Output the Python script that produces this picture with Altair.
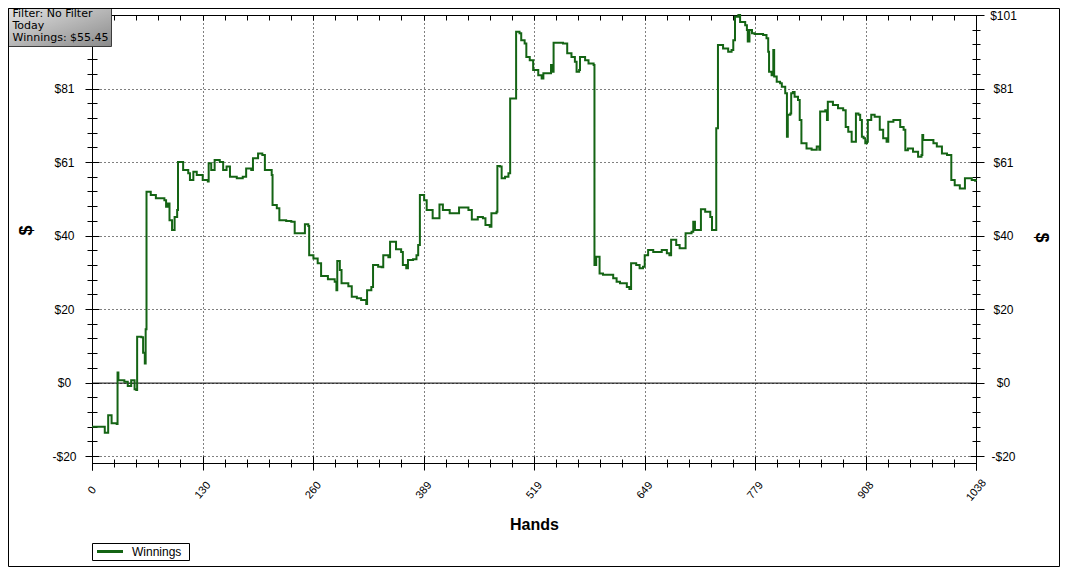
import altair as alt
import pandas as pd

# ---------------- data ----------------
hands = [0, 3, 15, 19, 23, 29, 30, 31, 38, 42,
         46, 50, 52, 53, 58, 60, 62, 63, 64, 69,
         75, 85, 87, 89, 91, 94, 97, 100, 101, 107,
         113, 115, 119, 123, 130, 136, 137, 140, 144, 150,
         154, 158, 162, 170, 177, 181, 187, 189, 195, 200,
         203, 211, 212, 217, 220, 228, 234, 238, 246, 250,
         254, 255, 260, 265, 269, 277, 285, 287, 288, 291,
         293, 301, 305, 311, 316, 322, 323, 328, 330, 336,
         340, 342, 348, 350, 356, 357, 363, 365, 369, 371,
         377, 381, 383, 385, 390, 393, 400, 406, 408, 412,
         420, 430, 431, 442, 446, 453, 459, 462, 467, 469,
         475, 476, 479, 481, 485, 489, 491, 496, 498, 502,
         504, 508, 510, 514, 518, 524, 528, 530, 536, 539,
         541, 542, 553, 558, 563, 567, 569, 572, 573, 579,
         583, 589, 590, 592, 594, 596, 600, 608, 612, 616,
         620, 624, 628, 631, 633, 639, 643, 647, 649, 653,
         659, 669, 675, 678, 680, 686, 690, 696, 697, 704,
         706, 708, 714, 715, 720, 726, 728, 731, 733, 734,
         735, 741, 747, 751, 753, 755, 759, 761, 767, 769,
         770, 772, 775, 778, 788, 792, 794, 795, 798, 800,
         801, 804, 808, 810, 814, 816, 817, 820, 821, 823,
         825, 829, 831, 833, 839, 845, 851, 854, 855, 861,
         863, 864, 870, 876, 882, 885, 888, 892, 896, 897,
         900, 902, 904, 906, 908, 910, 911, 915, 919, 925,
         929, 933, 935, 941, 949, 953, 955, 958, 964, 970,
         974, 975, 976, 982, 988, 992, 998, 1004, 1007, 1009,
         1013, 1019, 1023, 1025, 1029, 1033, 1037, 1038]

winnings = [-12.0, -12.0, -13.6, -8.8, -11.0, -11.2, 2.9, 0.8, 0.4, -0.8,
            0.8, -1.7, -1.9, 12.7, 12.6, 8.3, 5.4, 14.8, 52.5, 51.6,
            50.7, 50.2, 48.4, 49.3, 44.7, 42.0, 45.6, 47.5, 60.7, 58.5,
            57.6, 55.7, 58.0, 57.1, 55.7, 55.3, 60.3, 58.5, 61.2, 60.7,
            58.5, 59.4, 56.6, 56.2, 56.6, 58.9, 58.5, 61.7, 63.0, 62.6,
            58.5, 57.1, 48.9, 48.0, 44.7, 44.5, 44.3, 41.1, 41.1, 43.6,
            43.1, 35.1, 34.2, 32.9, 29.4, 28.5, 27.8, 25.5, 33.5, 31.0,
            27.4, 26.6, 23.7, 23.3, 22.8, 21.7, 25.5, 26.4, 32.4, 31.9,
            31.8, 35.1, 34.5, 38.8, 38.8, 36.7, 36.0, 32.4, 31.5, 33.8,
            34.0, 35.1, 37.9, 51.6, 50.2, 47.5, 45.2, 45.2, 49.0, 47.5,
            46.6, 46.6, 48.2, 47.5, 44.9, 45.6, 45.2, 43.4, 42.9, 46.6,
            47.0, 59.6, 59.4, 56.2, 56.6, 57.6, 78.1, 78.1, 96.4, 96.0,
            94.1, 93.2, 89.5, 88.6, 85.9, 84.5, 83.6, 85.0, 85.0, 87.3,
            85.4, 93.4, 93.2, 90.5, 89.5, 88.2, 85.4, 85.9, 89.5, 88.6,
            87.7, 87.3, 32.4, 34.7, 34.7, 30.1, 29.7, 29.7, 28.8, 27.8,
            27.4, 27.4, 26.4, 25.8, 32.9, 32.4, 31.5, 31.9, 35.1, 36.5,
            36.0, 36.5, 35.6, 35.1, 39.3, 37.9, 37.0, 37.0, 41.1, 41.5,
            44.3, 42.0, 42.0, 47.7, 47.0, 45.6, 42.0, 42.0, 69.9, 69.9,
            92.8, 91.8, 90.9, 91.4, 94.1, 100.5, 101.0, 99.1, 98.2, 96.9,
            93.7, 96.9, 96.0, 95.8, 95.5, 94.6, 90.9, 85.4, 84.5, 91.4,
            84.1, 82.7, 82.3, 81.3, 79.5, 67.6, 73.6, 74.0, 79.5, 79.9,
            78.6, 77.7, 72.2, 65.8, 64.4, 64.0, 64.9, 64.0, 74.5, 74.9,
            72.2, 77.2, 76.3, 75.4, 74.9, 70.3, 69.0, 66.2, 66.2, 74.0,
            73.6, 72.2, 67.6, 67.2, 65.8, 66.2, 72.2, 73.6, 73.1, 69.5,
            67.2, 66.2, 71.7, 72.2, 70.3, 69.5, 63.9, 64.4, 63.5, 62.1,
            62.6, 68.1, 66.7, 66.7, 65.8, 64.9, 63.0, 62.6, 62.6, 55.7,
            54.3, 53.4, 53.4, 56.2, 56.2, 55.7, 55.5, 55.45]

series_name = "Winnings"
x_title = "Hands"
y_title = "$"
info_lines = ["Filter: No Filter", "Today", "Winnings: $55.45"]

x_min, x_max = 0, 1038
y_min, y_max = -20, 101
x_tick_labels = ["0", "130", "260", "389", "519", "649", "779", "908", "1038"]
y_tick_labels = ["-$20", "$0", "$20", "$40", "$61", "$81", "$101"]
# on the left the top label sits under the info box, so it is not shown there
y_tick_labels_left = ["-$20", "$0", "$20", "$40", "$61", "$81", ""]

# axis tick positions: equal divisions of the axis range (5 minor steps per major)
x_major = [x_min + k * (x_max - x_min) / 8 for k in range(9)]
y_major = [y_min + k * (y_max - y_min) / 6 for k in range(7)]
x_minor = [x_min + k * (x_max - x_min) / 40 for k in range(41)]
y_minor = [y_min + k * (y_max - y_min) / 30 for k in range(31)]

LINE_COLOR = "#146414"
FONT = "Liberation Sans"

W, H = 884, 455
# y scale extends a little below -$20 so the axis lines run down past the x axis
y_low = y_max - (y_max - y_min) * H / 441.0


def label_expr(values, labels):
    expr = "'" + labels[-1] + "'"
    for i in range(len(values) - 2, -1, -1):
        mid = (values[i] + values[i + 1]) / 2
        expr = f"datum.value < {mid} ? '{labels[i]}' : ({expr})"
    return expr


xs = alt.Scale(domain=[x_min, x_max], nice=False, zero=False)
ys = alt.Scale(domain=[y_low, y_max], nice=False, zero=False)

df = pd.DataFrame({"hands": hands, "winnings": winnings})
one = pd.DataFrame({"v": [0]})

NOLAB = dict(labels=False, title=None, grid=False)


def ax(**kw):
    base = dict(tickColor="black", domainColor="black", tickWidth=1, domainWidth=1)
    base.update(kw)
    return alt.Axis(**base)


def axis_layer(xaxis, yaxis):
    return alt.Chart(df).mark_point(opacity=0, size=1).encode(
        x=alt.X("hands:Q", scale=xs, axis=xaxis),
        y=alt.Y("winnings:Q", scale=ys, axis=yaxis),
    )


# zero line
zero_rule = alt.Chart(one).mark_rule(color="black", strokeWidth=1).encode(
    y=alt.Y("v:Q", scale=ys, axis=None)
)

# main line, with x grid and main left axis
line = alt.Chart(df).mark_line(color=LINE_COLOR, strokeWidth=2, interpolate="step-after").encode(
    x=alt.X("hands:Q", scale=xs, axis=ax(values=x_major, domain=False, ticks=False,
                                         labels=False, title=None, grid=True,
                                         gridDash=[1, 3], gridColor="black", gridWidth=1)),
    y=alt.Y("winnings:Q", scale=ys, axis=ax(orient="left", values=y_major,
                                           labelExpr=label_expr(y_major, y_tick_labels_left),
                                           labelAlign="center", labelBaseline="middle",
                                           labelPadding=21, tickSize=7, labelFontSize=12,
                                           labelFlush=False, labelOverlap=False,
                                           grid=True, gridDash=[1, 3], gridColor="black",
                                           title=y_title, titleAngle=270, titleX=-66,
                                           titleY=215, titleAlign="center",
                                           titleBaseline="middle", titleFontSize=18,
                                           titleFontWeight="bold")),
)

l2 = axis_layer(
    ax(orient="bottom", offset=-7, values=x_major, tickSize=7,
       labelExpr=label_expr(x_major, x_tick_labels), labelAngle=310,
       labelAlign="center", labelBaseline="middle", labelPadding=20,
       labelFontSize=11, labelFlush=False, labelOverlap=False, grid=False,
       title=x_title, titleFontSize=16, titleFontWeight="bold", titleY=61,
       titleBaseline="middle"),
    ax(orient="left", offset=-7, values=y_major, tickSize=7, domain=False, **NOLAB),
)
l3 = axis_layer(
    ax(orient="bottom", offset=-14, values=x_major, tickSize=7, domain=False, **NOLAB),
    ax(orient="left", offset=-5, values=y_minor, tickSize=10, domain=False, **NOLAB),
)
l4 = axis_layer(
    ax(orient="bottom", offset=-11, values=x_minor, tickSize=8, domain=False, **NOLAB),
    ax(orient="right", values=y_major, tickSize=8,
       labelExpr=label_expr(y_major, y_tick_labels), labelAlign="center",
       labelBaseline="middle", labelPadding=19, labelFontSize=12, labelFlush=False,
       labelOverlap=False, grid=False, title=y_title, titleAngle=90, titleX=64,
       titleY=222, titleAlign="center", titleBaseline="middle", titleFontSize=18,
       titleFontWeight="bold"),
)
l5 = axis_layer(
    ax(orient="top", values=x_major, ticks=False, domain=True, **NOLAB),
    ax(orient="right", offset=-6, values=y_major, tickSize=6, domain=False, **NOLAB),
)
l6 = axis_layer(
    ax(orient="top", offset=-5, values=x_minor, tickSize=5, domain=False, **NOLAB),
    ax(orient="right", offset=-4, values=y_minor, tickSize=8, domain=False, **NOLAB),
)

# legend (drawn as a boxed sample line + label)
legend_box = alt.Chart(one).mark_rect(fill="white", stroke="black", strokeWidth=1).encode(
    x=alt.value(0.5), x2=alt.value(97.5), y=alt.value(528.5), y2=alt.value(545.5)
)
legend_line = alt.Chart(one).mark_rule(color=LINE_COLOR, strokeWidth=3).encode(
    x=alt.value(5), x2=alt.value(31), y=alt.value(536.5)
)
legend_text = alt.Chart(one).mark_text(align="left", baseline="middle", font=FONT,
                                       fontSize=12, color="black").encode(
    x=alt.value(40), y=alt.value(537), text=alt.value(series_name)
)

# info box top-left
info_box = alt.Chart(one).mark_rect(
    fill={"gradient": "linear", "x1": 0, "y1": 0, "x2": 1, "y2": 1,
          "stops": [{"offset": 0, "color": "#e2e2e2"}, {"offset": 1, "color": "#8a8a8a"}]},
    stroke="#3c3c3c", strokeWidth=1,
).encode(x=alt.value(-83.5), x2=alt.value(19.5), y=alt.value(-6.5), y2=alt.value(31.5))
info_text = alt.Chart(one).mark_text(align="left", baseline="alphabetic", font="DejaVu Sans",
                                     fontSize=11, lineHeight=12.2, lineBreak="\n",
                                     color="black").encode(
    x=alt.value(-79.5), y=alt.value(1.5), text=alt.value("\n".join(info_lines))
)

# outer frame
frame = alt.Chart(one).mark_rect(fill=None, stroke="black", strokeWidth=1).encode(
    x=alt.value(-83.5), x2=alt.value(967.5), y=alt.value(-6.5), y2=alt.value(551.5)
)

chart = alt.layer(
    zero_rule, line, l2, l3, l4, l5, l6,
    legend_box, legend_line, legend_text, info_box, info_text, frame,
).resolve_scale(x="shared", y="shared").resolve_axis(
    x="independent", y="independent"
).properties(
    width=W, height=H, autosize="none",
    padding={"left": 84, "top": 7, "right": 84, "bottom": 97},
    background="white",
).configure_view(stroke=None).configure_axis(
    labelFont=FONT, titleFont=FONT, labelColor="black", titleColor="black"
)

chart.save("out.html", embed_options={"renderer": "svg", "actions": False})
